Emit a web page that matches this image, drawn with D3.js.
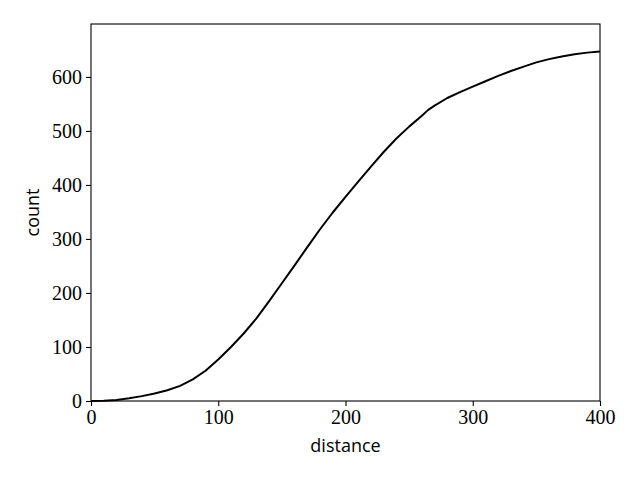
<!DOCTYPE html>
<html><head><meta charset="utf-8">
<script src="https://cdn.jsdelivr.net/npm/d3@7"></script>
<style>body{margin:0;background:#fff;}</style>
</head><body>
<svg id="chart" width="640" height="480"></svg>
<script>
const distance = [0,10,20,30,40,50,60,70,80,90,100,110,120,130,140,150,160,170,180,190,200,210,220,230,240,250,260,265,270,280,290,300,310,320,330,340,350,360,370,380,390,400];
const count = [0,0.5,2,5,9,14,20,28,40,56,77,100,125,153,185,218,251,285,318,349,378,406,434,461,486,508,528,539,547,561,572,582,592,602,611,619,627,633,638,642,645,647];
const xTicks = [0,100,200,300,400];
const yTicks = [0,100,200,300,400,500,600];
const xLabel = "distance";
const yLabel = "count";

const svg = d3.select("#chart");
const m = {left:91, right:40, top:24, bottom:79};
const W = 640, H = 480;
const x = d3.scaleLinear().domain([0,400]).range([m.left, W-m.right]);
const y = d3.scaleLinear().domain([0,698]).range([H-m.bottom, m.top]);

const serif = "'Liberation Serif','DejaVu Serif',serif";
const sans = "'Open Sans','DejaVu Sans',sans-serif";

const xa = svg.append("g").attr("transform",`translate(0,${H-m.bottom})`)
  .call(d3.axisBottom(x).tickValues(xTicks).tickSize(5).tickPadding(4).tickFormat(d3.format("d")));
const ya = svg.append("g").attr("transform",`translate(${m.left},0)`)
  .call(d3.axisLeft(y).tickValues(yTicks).tickSize(5).tickPadding(4).tickFormat(d3.format("d")));
[xa,ya].forEach(a=>{
  a.select(".domain").remove();
  a.selectAll(".tick line").attr("stroke","#000").attr("stroke-width",1.1);
  a.selectAll(".tick text").attr("font-family",serif).attr("font-size",20).attr("fill","#000");
});

svg.append("path").datum(distance.map((d,i)=>[d,count[i]]))
  .attr("fill","none").attr("stroke","#000").attr("stroke-width",2)
  .attr("stroke-linejoin","round")
  .attr("d", d3.line().x(d=>x(d[0])).y(d=>y(d[1])));

svg.append("rect").attr("x",m.left).attr("y",m.top)
  .attr("width",W-m.left-m.right).attr("height",H-m.top-m.bottom)
  .attr("fill","none").attr("stroke","#000").attr("stroke-width",1.1);

svg.append("text").attr("x",(m.left+W-m.right)/2).attr("y",452)
  .attr("text-anchor","middle").attr("font-family",sans).attr("font-size",18).text(xLabel);
svg.append("text").attr("transform",`translate(39,${(m.top+H-m.bottom)/2}) rotate(-90)`)
  .attr("text-anchor","middle").attr("font-family",sans).attr("font-size",18).text(yLabel);
</script>
</body></html>
